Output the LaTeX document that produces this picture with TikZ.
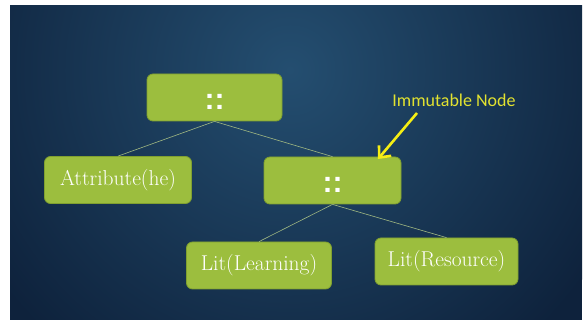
\documentclass[tikz,border=0pt]{standalone}
\usepackage{fontspec}
\newfontfamily\notefont{Carlito}
\newfontfamily\dotsfont{Liberation Sans}
\usetikzlibrary{arrows.meta}
\definecolor{bgdark}{RGB}{14,34,60}
\definecolor{bglight}{RGB}{36,78,112}
\definecolor{boxfill}{RGB}{156,190,62}
\definecolor{boxedge}{RGB}{128,160,48}
\definecolor{edgeline}{RGB}{160,184,130}
\definecolor{notetext}{RGB}{226,226,48}
\definecolor{notearrow}{RGB}{245,238,20}
\tikzset{
  treebox/.style={draw=boxedge, line width=0.8pt, fill=boxfill, rounded corners=6pt,
    minimum height=47pt, inner sep=0pt, text=white,
    font=\fontsize{21.5}{25}\selectfont},
  opbox/.style={treebox, font=\dotsfont\bfseries\fontsize{30}{30}\selectfont},
  branch/.style={edgeline, line width=0.6pt},
  note/.style={text=notetext, font=\notefont\fontsize{18}{20}\selectfont, inner sep=0pt},
  pointer/.style={notearrow, line width=2.6pt, -{Straight Barb[length=9pt,width=16pt,line width=2.6pt]}}
}
\newcommand{\opdots}{\raisebox{-12.3pt}[0pt][0pt]{::}}
\begin{document}
\begin{tikzpicture}[x=1pt,y=-1pt]
  \useasboundingbox (0,0) rectangle (584,320);
  \fill[white] (0,0) rectangle (584,320);
  % slide background
  \fill[bgdark] (10,6) rectangle (582,320);
  \begin{scope}
    \clip (10,6) rectangle (582,320);
    \shade[inner color=bglight, outer color=bgdark] (290,70) circle (360);
  \end{scope}

  % tree nodes
  \node[opbox, minimum width=135pt] (root) at (214.5,97.5) {\opdots};
  \node[treebox, minimum width=147pt] (attr) at (118,180) {Attribute(he)};
  \node[opbox, minimum width=137pt] (mid) at (332.5,180.5) {\opdots};
  \node[treebox, minimum width=145pt] (learn) at (259,265.5) {Lit(Learning)};
  \node[treebox, minimum width=143pt] (res) at (446.5,261.5) {Lit(Resource)};

  % branches
  \draw[branch] (root.south) -- (attr.north);
  \draw[branch] (root.south) -- (mid.north);
  \draw[branch] (mid.south) -- (learn.north);
  \draw[branch] (mid.south) -- (res.north);

  % annotation
  \node[note] (imm) at (454,100) {Immutable Node};
  \coordinate (tail) at (417,113);
  \coordinate (tip) at (378,159);
  \draw[pointer] (tail) -- (tip);
\end{tikzpicture}
\end{document}
